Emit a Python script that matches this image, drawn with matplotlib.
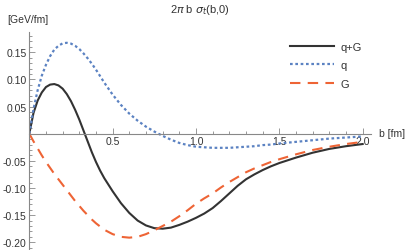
import matplotlib
matplotlib.use('Agg')
import matplotlib.pyplot as plt
from matplotlib.ticker import MultipleLocator, FixedLocator, FixedFormatter

plt.rcParams['font.family'] = ['Liberation Sans', 'DejaVu Sans']

# values
b = [0, 0.025, 0.05, 0.075, 0.1, 0.125, 0.15, 0.175, 0.2, 0.225, 0.25, 0.275,
     0.3, 0.325, 0.35, 0.375, 0.4, 0.425, 0.45, 0.475, 0.5,
     0.55, 0.6, 0.65, 0.7, 0.75, 0.8, 0.85, 0.9, 0.95, 1.0, 1.05, 1.1, 1.15,
     1.2, 1.25, 1.3, 1.35, 1.4, 1.45, 1.5,
     1.6, 1.7, 1.8, 1.9, 2.0]
qG = [0, 0.038, 0.061, 0.076, 0.086, 0.0905, 0.0915, 0.089, 0.083, 0.073, 0.060,
      0.044, 0.026, 0.006, -0.014, -0.034, -0.052, -0.068, -0.082, -0.094, -0.106,
      -0.128, -0.146, -0.160, -0.169, -0.174, -0.175, -0.173, -0.168, -0.162,
      -0.155, -0.147, -0.137, -0.124, -0.110, -0.096, -0.084, -0.075, -0.067,
      -0.060, -0.054,
      -0.044, -0.035, -0.028, -0.023, -0.019]
q = [0, 0.045, 0.080, 0.107, 0.127, 0.143, 0.155, 0.162, 0.1665, 0.1675, 0.166,
     0.162, 0.156, 0.148, 0.139, 0.129, 0.118, 0.106, 0.094, 0.083, 0.072,
     0.053, 0.037, 0.024, 0.013, 0.004, -0.004, -0.011, -0.017, -0.021, -0.024,
     -0.025, -0.026, -0.026, -0.026, -0.025, -0.024, -0.023, -0.021, -0.020,
     -0.018,
     -0.015, -0.012, -0.009, -0.007, -0.005]
G = [0, -0.014, -0.027, -0.040, -0.052, -0.063, -0.074, -0.084, -0.094, -0.104,
     -0.114, -0.124, -0.133, -0.142, -0.150, -0.158, -0.165, -0.171, -0.177,
     -0.181, -0.185,
     -0.190, -0.1915, -0.190, -0.185, -0.178, -0.170, -0.162, -0.152, -0.141,
     -0.129, -0.119, -0.110, -0.099, -0.089, -0.080, -0.071, -0.064, -0.058,
     -0.052, -0.047,
     -0.038, -0.030, -0.024, -0.019, -0.015]

xticks = [0.5, 1.0, 1.5, 2.0]
xlabels = ['0.5', '1.0', '1.5', '2.0']
yticks = [-0.20, -0.15, -0.10, -0.05, 0.05, 0.10, 0.15]
ylabels = ['-0.20', '-0.15', '-0.10', '-0.05', '0.05', '0.10', '0.15']

fig = plt.figure(figsize=(4.07, 2.51), dpi=100)
ax = fig.add_axes([29.3/407, 1-250/251, (371-29.3)/407, (250-33)/251])

ax.plot(b, qG, color='#333333', lw=1.5, label='q+G')
ax.plot(b, q, color='#5B82C2', lw=1.6, ls=(0, (1.2, 1.2)), label='q')
ax.plot(b, G, color='#EE6435', lw=1.5, ls=(0, (5, 3.5)), label='G')

ax.set_xlim(0, 2.05)
ax.set_ylim(-0.2124, 0.1874)

for s in ['top', 'right']:
    ax.spines[s].set_visible(False)
ax.spines['bottom'].set_position(('data', 0))
ax.spines['left'].set_position(('data', 0))
for s in ['bottom', 'left']:
    ax.spines[s].set_color('#888888')
    ax.spines[s].set_linewidth(0.8)

ax.xaxis.set_major_locator(FixedLocator(xticks))
ax.xaxis.set_major_formatter(FixedFormatter(xlabels))
ax.xaxis.set_minor_locator(MultipleLocator(0.1))
ax.yaxis.set_major_locator(FixedLocator(yticks))
ax.yaxis.set_major_formatter(FixedFormatter(ylabels))
ax.yaxis.set_minor_locator(MultipleLocator(0.01))

ax.tick_params(which='both', direction='in', color='#888888', labelsize=7.5,
               labelcolor='#333333', width=0.6)
ax.tick_params(which='major', length=4, pad=2)
ax.tick_params(which='minor', length=2.2)

fig.text(0.49, 0.96, r'2$\pi$ b $\sigma_t$(b,0)', ha='center', va='center',
         fontsize=8, color='#333333')
fig.text(7/407, 1-20/251, '[GeV/fm]', ha='left', va='center', fontsize=7.5,
         color='#333333')
fig.text(379/407, 1-134/251, 'b [fm]', ha='left', va='center', fontsize=7.5,
         color='#333333')

ax.legend(loc='upper left', bbox_to_anchor=(0.75, 0.975), frameon=False,
          fontsize=8, handlelength=4.0, handletextpad=0.5, labelspacing=0.75,
          borderaxespad=0, labelcolor='#333333')

fig.savefig('out.png', dpi=100)
